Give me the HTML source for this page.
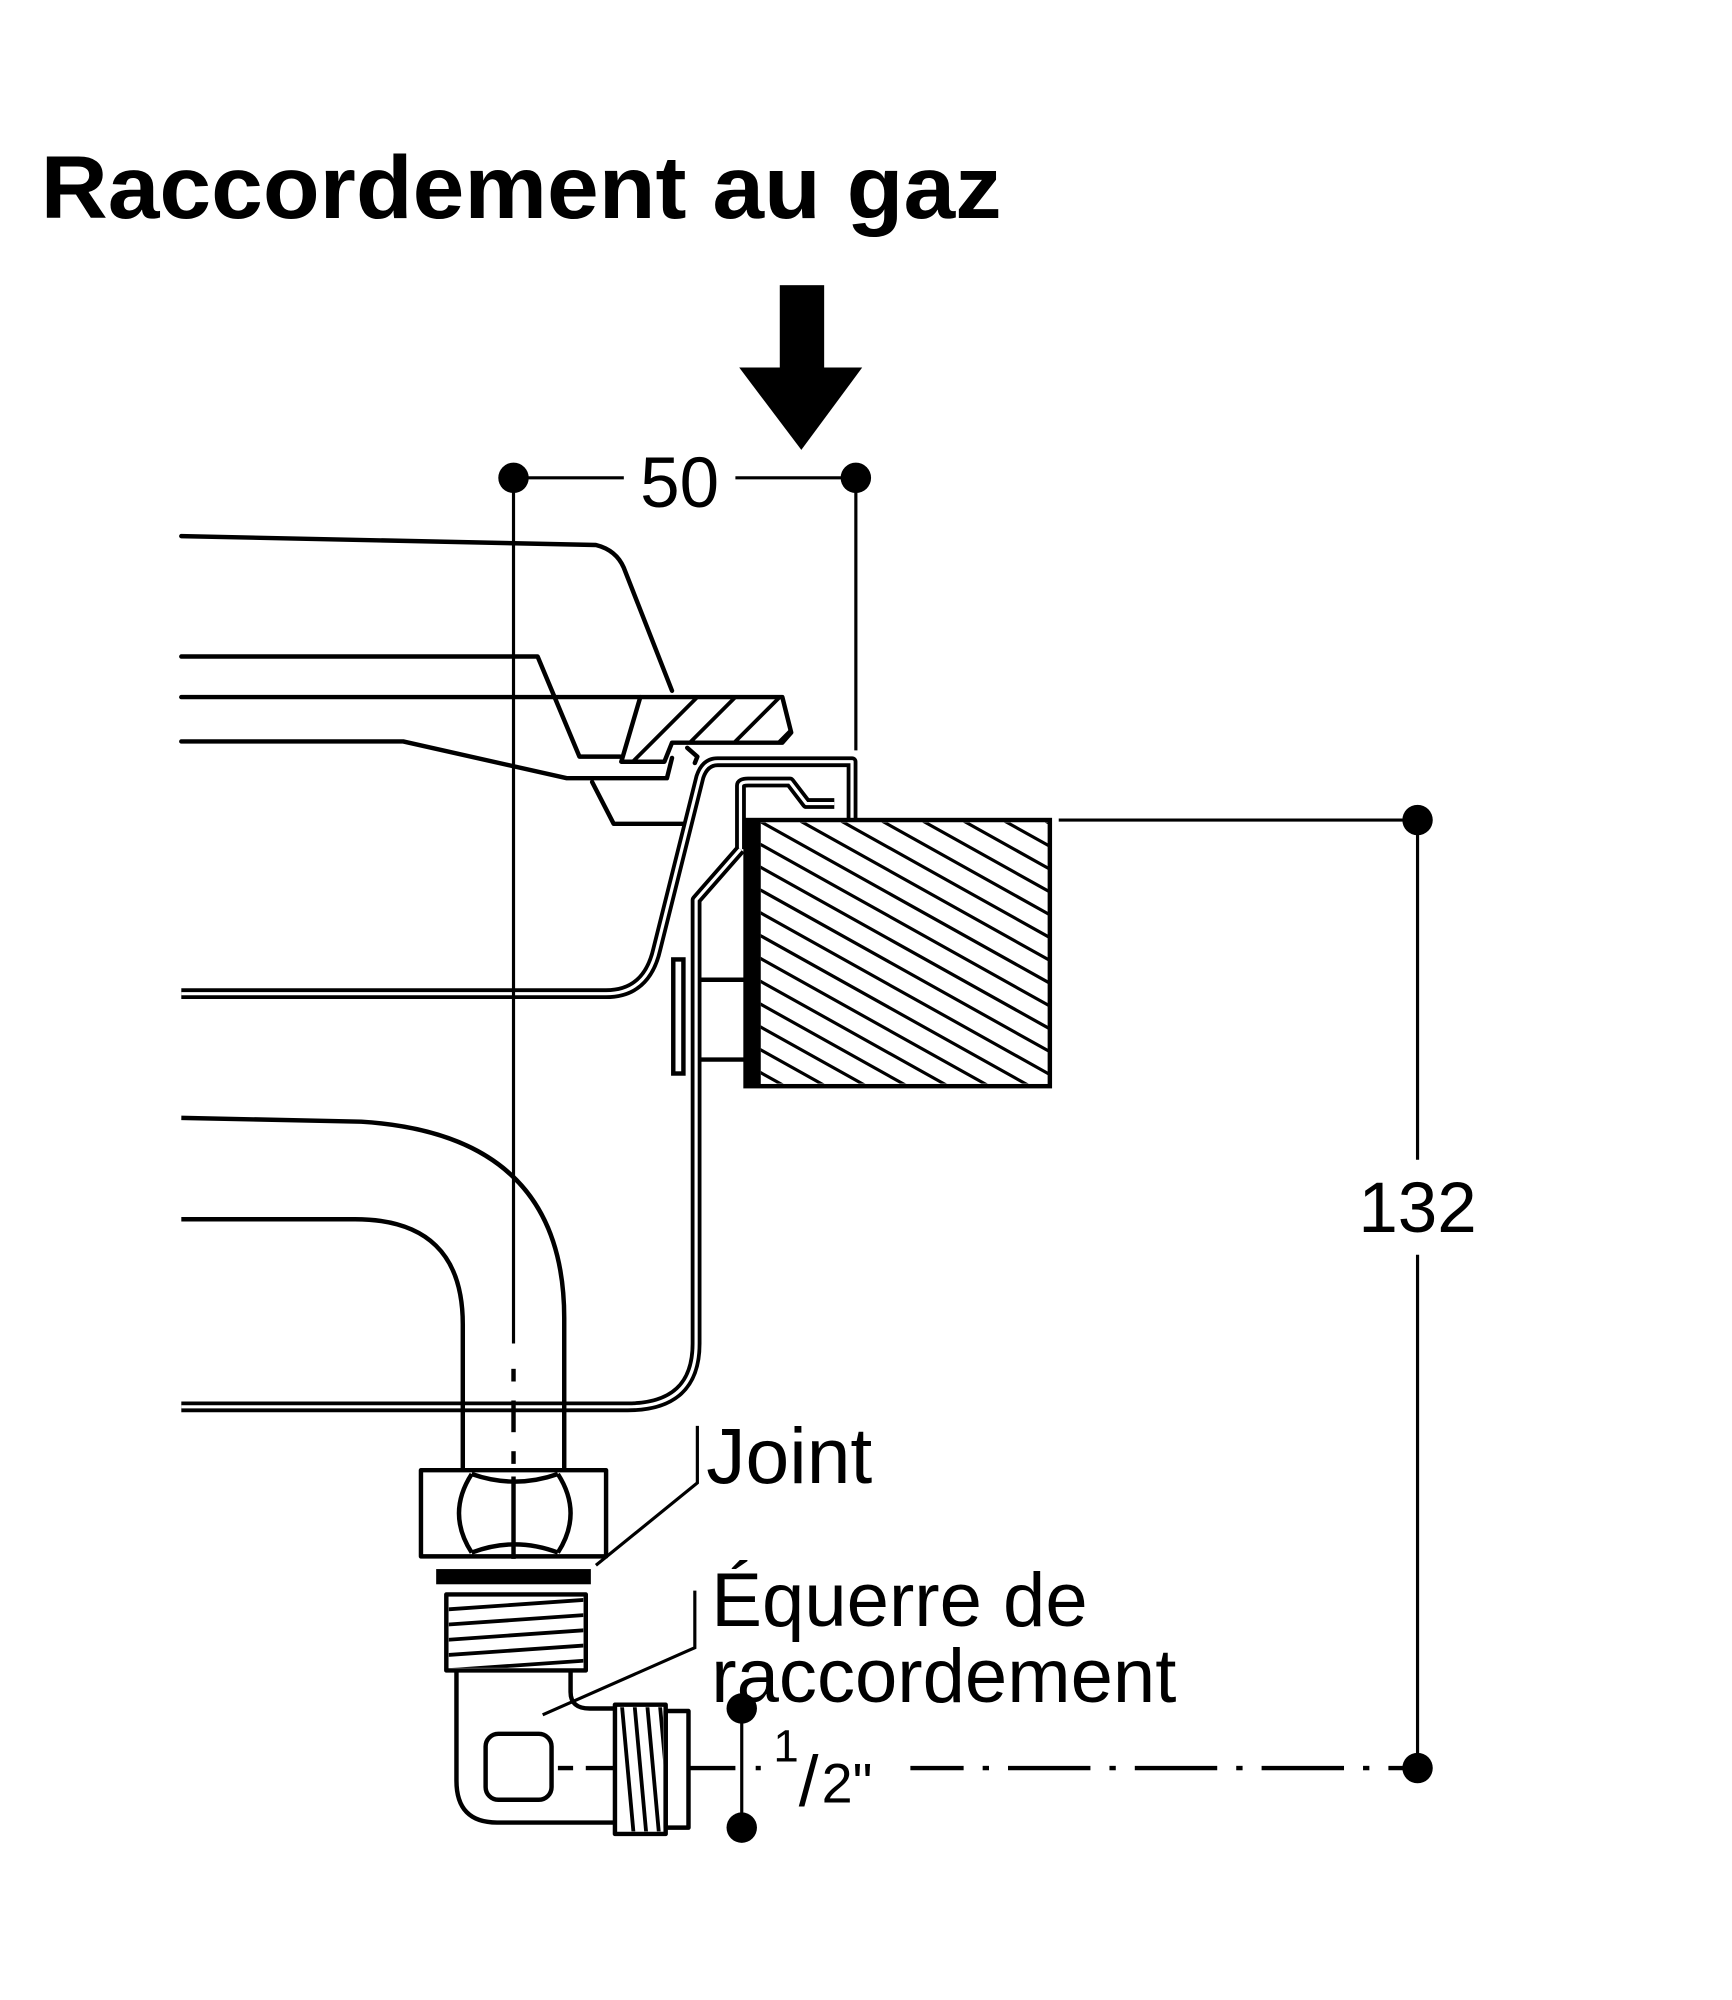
<!DOCTYPE html>
<html><head><meta charset="utf-8"><style>html,body{margin:0;padding:0;background:#fff}svg{display:block}</style></head>
<body>
<svg width="1732" height="2000" viewBox="0 0 1366 1578" preserveAspectRatio="none" xmlns="http://www.w3.org/2000/svg">
<defs>
<clipPath id="wood"><rect x="600" y="649" width="227" height="206"/></clipPath>
<clipPath id="piece"><polygon points="505,550 617,550 624,578 617,586 530,586 524,601 490,601"/></clipPath>
<clipPath id="thr"><rect x="354" y="1260" width="106" height="56"/></clipPath>
<clipPath id="thr2"><rect x="487" y="1347" width="36" height="98"/></clipPath>
</defs>
<rect width="1366" height="1578" fill="#fff"/>
<text x="32" y="172" font-family="Liberation Sans, sans-serif" font-weight="bold" font-size="70" textLength="758" lengthAdjust="spacingAndGlyphs">Raccordement au gaz</text>
<rect x="615" y="225" width="35" height="68" fill="#000"/>
<polygon points="583,290 680,290 632,355" fill="#000"/>
<g stroke="#000" fill="none" stroke-width="3.5" stroke-linejoin="round" stroke-linecap="round">
<path d="M143,423 L470,430 Q486,434 492,448 L530,545"/>
<path d="M143,518 L424,518 L457,597 L489,597"/>
<path d="M143,550 L505,550"/>
<path d="M143,585 L318,585 L447,614 L526,614 L530,598"/>
<path d="M467,617 L484,650 L539,650"/>
<polygon points="505,550 617,550 624,578 617,586 530,586 524,601 490,601"/>
<path d="M542,590 L550,597 L548,602"/>
</g>
<g clip-path="url(#piece)" stroke="#000" stroke-width="3">
<line x1="480" y1="620" x2="560" y2="540"/><line x1="510" y1="620" x2="590" y2="540"/><line x1="545" y1="620" x2="625" y2="540"/><line x1="580" y1="620" x2="660" y2="540"/><line x1="615" y1="620" x2="695" y2="540"/>
</g>
<g fill="none" stroke-linejoin="round">
<path d="M143,784 L478,784 Q510,784 518,749 L552,613 Q556,601 566,601 L672,601 L672,647" stroke="#000" stroke-width="8.5"/>
<path d="M143,784 L478,784 Q510,784 518,749 L552,613 Q556,601 566,601 L672,601 L672,647" stroke="#fff" stroke-width="2.5"/>
<path d="M584,670 L584,620 Q584,617 590,617 L623,617 L636,634 L658,634" stroke="#000" stroke-width="8.5"/>
<path d="M584,670 L584,620 Q584,617 590,617 L623,617 L636,634 L658,634" stroke="#fff" stroke-width="2.5"/>
<path d="M584,670 L549,710 L549,1060 Q549,1110 495,1110 L143,1110" stroke="#000" stroke-width="8.5"/>
<path d="M584,670 L549,710 L549,1060 Q549,1110 495,1110 L143,1110" stroke="#fff" stroke-width="2.5"/>
</g>
<g stroke="#000" stroke-width="3.5" fill="none">
<rect x="531" y="757" width="8" height="90"/>
<line x1="551" y1="773" x2="590" y2="773"/><line x1="551" y1="836" x2="590" y2="836"/>
<rect x="588" y="647" width="240" height="210"/>
</g>
<rect x="587" y="647" width="13" height="210" fill="#000"/>
<g clip-path="url(#wood)" stroke="#000" stroke-width="2.5">
<line x1="560" y1="392" x2="900" y2="582"/><line x1="560" y1="410" x2="900" y2="600"/><line x1="560" y1="428" x2="900" y2="618"/><line x1="560" y1="446" x2="900" y2="636"/><line x1="560" y1="464" x2="900" y2="654"/><line x1="560" y1="482" x2="900" y2="672"/><line x1="560" y1="500" x2="900" y2="690"/><line x1="560" y1="518" x2="900" y2="708"/><line x1="560" y1="536" x2="900" y2="726"/><line x1="560" y1="554" x2="900" y2="744"/><line x1="560" y1="572" x2="900" y2="762"/><line x1="560" y1="590" x2="900" y2="780"/><line x1="560" y1="608" x2="900" y2="798"/><line x1="560" y1="626" x2="900" y2="816"/><line x1="560" y1="644" x2="900" y2="834"/><line x1="560" y1="662" x2="900" y2="852"/><line x1="560" y1="680" x2="900" y2="870"/><line x1="560" y1="698" x2="900" y2="888"/><line x1="560" y1="716" x2="900" y2="906"/><line x1="560" y1="734" x2="900" y2="924"/><line x1="560" y1="752" x2="900" y2="942"/><line x1="560" y1="770" x2="900" y2="960"/><line x1="560" y1="788" x2="900" y2="978"/><line x1="560" y1="806" x2="900" y2="996"/><line x1="560" y1="824" x2="900" y2="1014"/><line x1="560" y1="842" x2="900" y2="1032"/>
</g>
<g stroke="#000" stroke-width="3.5" fill="none" stroke-linejoin="round">
<path d="M143,882 L285,885 Q445,895 445,1040 L445,1160"/>
<path d="M143,962 L280,962 Q365,962 365,1045 L365,1160"/>
<rect x="332" y="1160" width="146" height="68"/>
<path d="M372,1163 Q352,1194 372,1225 M440,1163 Q460,1194 440,1225 M372,1163 Q406,1175 440,1163 M372,1225 Q406,1212 440,1225"/>
<rect x="352" y="1258" width="110" height="60"/>
<path d="M360,1318 L360,1405 Q360,1438 392,1438 L485,1438 M450,1318 L450,1335 Q450,1348 465,1348 L485,1348"/>
<rect x="383" y="1368" width="52" height="52" rx="10"/>
<rect x="485" y="1345" width="40" height="102"/>
<rect x="525" y="1350" width="18" height="92"/>
</g>
<rect x="344" y="1238" width="122" height="12" fill="#000"/>
<g clip-path="url(#thr)" stroke="#000" stroke-width="3">
<line x1="350" y1="1270" x2="465" y2="1262"/><line x1="350" y1="1282" x2="465" y2="1274"/><line x1="350" y1="1294" x2="465" y2="1286"/><line x1="350" y1="1306" x2="465" y2="1298"/><line x1="350" y1="1318" x2="465" y2="1310"/>
</g>
<g clip-path="url(#thr2)" stroke="#000" stroke-width="3">
<line x1="490" y1="1340" x2="500" y2="1450"/><line x1="500" y1="1340" x2="510" y2="1450"/><line x1="510" y1="1340" x2="520" y2="1450"/><line x1="520" y1="1340" x2="530" y2="1450"/>
</g>
<g stroke="#000" stroke-width="2.5" fill="none">
<line x1="405" y1="377" x2="492" y2="377"/><line x1="580" y1="377" x2="675" y2="377"/>
<line x1="405" y1="377" x2="405" y2="1060"/>
<line x1="405" y1="1080" x2="405" y2="1090" stroke-width="3.5"/>
<line x1="405" y1="1105" x2="405" y2="1130" stroke-width="3.5"/>
<line x1="405" y1="1145" x2="405" y2="1155" stroke-width="3.5"/>
<line x1="405" y1="1165" x2="405" y2="1230" stroke-width="3.5"/>
<line x1="675" y1="377" x2="675" y2="592"/>
<line x1="835" y1="647" x2="1118" y2="647"/>
<line x1="1118" y1="647" x2="1118" y2="915"/><line x1="1118" y1="990" x2="1118" y2="1395"/>
<line x1="585" y1="1348" x2="585" y2="1442"/>
<path d="M470,1235 L550,1170 L550,1125"/>
<path d="M428,1353 L548,1300 L548,1255"/>
</g>
<g stroke="#000" stroke-width="3.5">
<line x1="440" y1="1395" x2="452" y2="1395"/><line x1="462" y1="1395" x2="485" y2="1395"/><line x1="543" y1="1395" x2="580" y2="1395"/><line x1="596" y1="1395" x2="600" y2="1395"/>
<line x1="718" y1="1395" x2="760" y2="1395"/><line x1="775" y1="1395" x2="780" y2="1395"/><line x1="795" y1="1395" x2="860" y2="1395"/><line x1="875" y1="1395" x2="880" y2="1395"/><line x1="895" y1="1395" x2="960" y2="1395"/><line x1="975" y1="1395" x2="980" y2="1395"/><line x1="995" y1="1395" x2="1060" y2="1395"/><line x1="1075" y1="1395" x2="1080" y2="1395"/><line x1="1095" y1="1395" x2="1118" y2="1395"/>
</g>
<g fill="#000">
<circle cx="405" cy="377" r="12"/><circle cx="675" cy="377" r="12"/>
<circle cx="1118" cy="647" r="12"/><circle cx="1118" cy="1395" r="12"/>
<circle cx="585" cy="1348" r="12"/><circle cx="585" cy="1442" r="12"/>
</g>
<g font-family="Liberation Sans, sans-serif" fill="#000">
<text x="536" y="400" font-size="56" text-anchor="middle">50</text>
<text x="1118" y="972" font-size="56" text-anchor="middle">132</text>
<text x="557" y="1170" font-size="62">Joint</text>
<text x="561" y="1283" font-size="60">Équerre de</text>
<text x="561" y="1343" font-size="60">raccordement</text>
<text x="610" y="1390" font-size="36">1</text>
<text x="630" y="1425" font-size="56">/</text>
<text x="648" y="1422" font-size="44">2"</text>
</g>
</svg>
</body></html>
